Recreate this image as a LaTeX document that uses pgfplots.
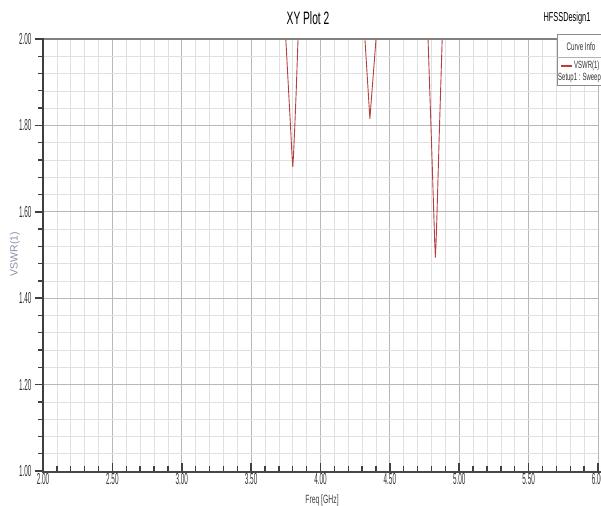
\documentclass[border=0pt]{standalone}
\usepackage{fontspec}
\setmainfont{Liberation Sans}[FakeStretch=0.57]
\newfontfamily\tickfont{Liberation Sans}[FakeStretch=0.40]
\newfontfamily\plainfont{Liberation Sans}
\usepackage{pgfplots}
\pgfplotsset{compat=1.18}
\definecolor{curvered}{HTML}{B5403F}
\definecolor{ylab}{HTML}{8A8FA8}
\pgfplotstableread{
x y
2.00 3.5
3.60 3.2
3.65 2.60
3.75 2.00
3.77 1.88
3.785 1.79
3.795 1.728
3.80 1.704
3.805 1.728
3.815 1.80
3.825 1.88
3.838 2.00
3.90 2.6
4.10 3.4
4.28 2.3
4.32 2.00
4.335 1.923
4.348 1.856
4.356 1.815
4.364 1.850
4.378 1.908
4.40 2.00
4.45 2.3
4.65 3.2
4.74 2.35
4.775 2.00
4.80 1.76
4.815 1.61
4.823 1.53
4.828 1.494
4.833 1.53
4.840 1.60
4.855 1.77
4.877 2.00
4.92 2.45
6.00 3.5
}\vswr
\begin{document}
\begin{tikzpicture}[x=1bp,y=1bp]
\useasboundingbox (0,0) rectangle (601,506);
\clip (0,0) rectangle (601,506);
\begin{axis}[
  at={(43bp,35bp)}, anchor=south west,
  scale only axis, width=555bp, height=432bp,
  xmin=2, xmax=6, ymin=1, ymax=2,
  xtick={2,2.5,3,3.5,4,4.5,5,5.5,6},
  ytick={1,1.2,1.4,1.6,1.8,2},
  minor x tick num=4, minor y tick num=4,
  grid=both,
  major grid style={draw=black!28, line width=0.9bp},
  minor grid style={draw=black!12, line width=0.6bp},
  axis line style={draw=none},
  tick pos=left,
  xtick align=inside, ytick align=outside,
  major tick length=8bp, minor tick length=5bp,
  every major tick/.style={black!75, line width=1.6bp},
  every minor tick/.style={black!75, line width=1.3bp},
  /pgf/number format/assume math mode=true,
  xticklabel style={yshift=1bp, /pgf/number format/.cd, fixed, fixed zerofill, precision=2},
  yticklabel style={/pgf/number format/.cd, fixed, fixed zerofill, precision=2},
  ticklabel style={font=\tickfont\fontsize{16}{16}\selectfont, text=black!80},
]
\addplot[curvered, line width=0.9bp] table[x=x, y=y] {\vswr};
\end{axis}
% axis frame lines
\draw[black!50, line width=2bp] (43,467) -- (600,467);
\draw[black!75, line width=2bp] (43,35) -- (43,468);
\draw[black!72, line width=2bp] (42,34) -- (601,34);
% texts
\node at (308,488) {\fontsize{18}{18}\selectfont XY Plot 2};
\node at (567,488) {\fontsize{13}{13}\selectfont HFSSDesign1};
\node[font=\fontsize{12}{12}\selectfont, text=black!75] at (322,6) {Freq [GHz]};
\node[rotate=90, font=\plainfont\fontsize{10.5}{10.5}\selectfont, text=ylab] at (15,252) {VSWR(1)};
% curve info box
\draw[black!45, fill=white, line width=1bp] (557,420) rectangle (620,471);
\node[font=\fontsize{11}{11}\selectfont, text=black!80] at (581,459) {Curve Info};
\draw[black!30, line width=0.6bp] (557,449) -- (620,449);
\draw[curvered, line width=1.6bp] (561,440) -- (572,440);
\node[anchor=west, font=\fontsize{10.5}{10.5}\selectfont, text=black!80, inner sep=0pt] at (574,440) {VSWR(1)};
\node[anchor=west, font=\fontsize{10.5}{10.5}\selectfont, text=black!80, inner sep=0pt] at (558,428) {Setup1 : Sweep};
\end{tikzpicture}
\end{document}
